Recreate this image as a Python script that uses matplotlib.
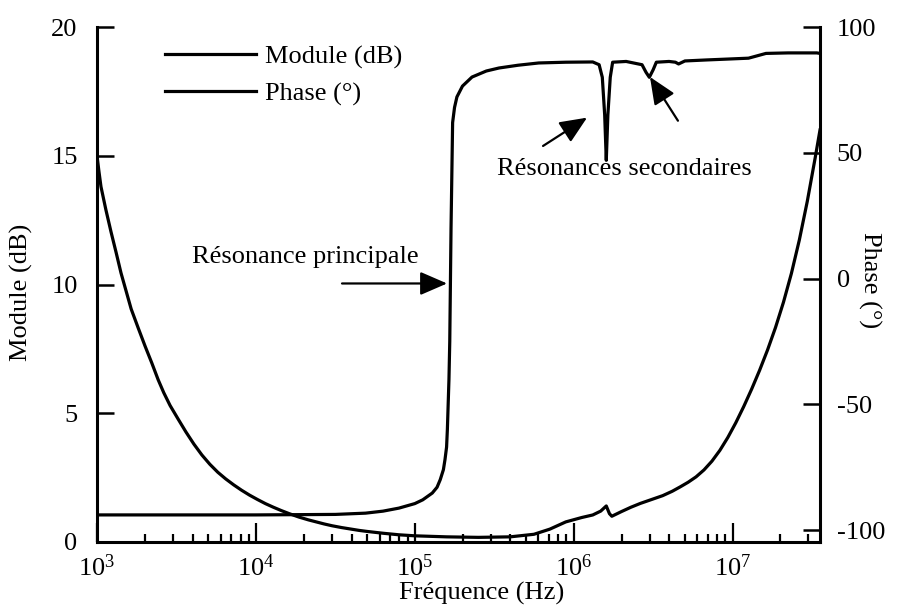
import numpy as np
import matplotlib
matplotlib.use("Agg")
import matplotlib.pyplot as plt
from matplotlib.ticker import LogLocator, FuncFormatter, NullFormatter, FixedLocator

plt.rcParams['font.family'] = ['Liberation Serif', 'DejaVu Serif']
plt.rcParams['mathtext.fontset'] = 'custom'
plt.rcParams['mathtext.rm'] = 'Liberation Serif'
plt.rcParams['mathtext.it'] = 'Liberation Serif:italic'
plt.rcParams['axes.unicode_minus'] = False

# Impedance module (dB) vs log10 of frequency
log_f_module = [3.000, 3.012, 3.025, 3.056, 3.088, 3.120, 3.151, 3.183, 3.215, 3.260,
                3.303, 3.345, 3.385, 3.420, 3.460, 3.510, 3.560, 3.610, 3.660, 3.710,
                3.760, 3.810, 3.860, 3.910, 3.960, 4.010, 4.060, 4.110, 4.160, 4.210,
                4.270, 4.330, 4.380, 4.430, 4.480, 4.540, 4.600, 4.650, 4.700, 4.800,
                4.900, 5.000, 5.200, 5.400, 5.600, 5.750, 5.850, 5.950, 6.050, 6.120,
                6.170, 6.205, 6.225, 6.240, 6.300, 6.360, 6.420, 6.490, 6.560, 6.620,
                6.670, 6.720, 6.770, 6.820, 6.870, 6.920, 6.970, 7.020, 7.070, 7.120,
                7.170, 7.220, 7.270, 7.320, 7.370, 7.420, 7.470, 7.520, 7.550]
module_db = [15.0, 14.4, 13.8, 12.9, 12.05, 11.25, 10.45, 9.75, 9.05, 8.3,
             7.6, 6.95, 6.3, 5.8, 5.3, 4.78, 4.27, 3.80, 3.38, 3.02,
             2.71, 2.45, 2.22, 2.01, 1.82, 1.65, 1.49, 1.35, 1.22, 1.10,
             0.97, 0.86, 0.78, 0.70, 0.63, 0.56, 0.50, 0.45, 0.41, 0.34,
             0.28, 0.24, 0.20, 0.18, 0.20, 0.30, 0.50, 0.78, 0.95, 1.05,
             1.2, 1.4, 1.1, 1.0, 1.18, 1.35, 1.50, 1.65, 1.80, 1.97,
             2.14, 2.32, 2.53, 2.80, 3.14, 3.56, 4.06, 4.63, 5.26, 5.94,
             6.67, 7.46, 8.33, 9.31, 10.43, 11.73, 13.23, 14.93, 16.0]

# Impedance phase (degrees) vs log10 of frequency
log_f_phase = [3.00, 4.00, 4.50, 4.69, 4.80, 4.90, 5.00, 5.05, 5.11, 5.14,
               5.16, 5.18, 5.19, 5.20, 5.205, 5.21, 5.215, 5.22, 5.228, 5.238,
               5.25, 5.265, 5.30, 5.36, 5.45, 5.53, 5.65, 5.78, 5.95, 6.12,
               6.16, 6.18, 6.195, 6.205, 6.215, 6.23, 6.245, 6.33, 6.43, 6.455,
               6.476, 6.50, 6.52, 6.60, 6.64, 6.66, 6.70, 6.836, 6.95, 7.10,
               7.21, 7.35, 7.53, 7.55]
phase_deg = [-94.0, -94.0, -93.8, -93.3, -92.5, -91.3, -89.5, -88.0, -85.3, -83.0,
             -80.0, -76.0, -72.0, -67.0, -60.0, -50.0, -40.0, -25.0, 20.0, 62.0,
             68.0, 72.2, 76.5, 80.1, 82.5, 83.7, 84.8, 85.7, 86.0, 86.1,
             85.0, 80.0, 65.0, 47.0, 65.0, 80.0, 86.0, 86.3, 85.0, 82.0,
             80.0, 83.0, 86.0, 86.3, 86.0, 85.3, 86.5, 86.9, 87.2, 87.6,
             89.5, 89.7, 89.7, 89.5]

f_module = 10.0 ** np.array(log_f_module)
f_phase = 10.0 ** np.array(log_f_phase)

FS = 19

fig = plt.figure(figsize=(9, 6.08), dpi=100)
ax = fig.add_axes([97 / 900, 66 / 608, 723 / 900, 506 / 608])
ax2 = ax.twinx()
ax2.set_position([97 / 900, 66 / 608, 723 / 900, 515 / 608])

l1, = ax.plot(f_module, module_db, color='black', lw=2.3, label='Module (dB)',
              solid_joinstyle='round')
l2, = ax2.plot(f_phase, phase_deg, color='black', lw=2.3, label='Phase (°)',
               solid_joinstyle='round')

ax.set_xscale('log')
ax.set_xlim(1e3, 10 ** 7.55)
ax.set_ylim(0, 20)
ax2.set_ylim(-104.77, 100)

ax.xaxis.set_major_locator(FixedLocator([1e3, 1e4, 1e5, 1e6, 1e7]))
ax.xaxis.set_minor_locator(LogLocator(base=10, subs=np.arange(2, 10), numticks=20))
ax.xaxis.set_minor_formatter(NullFormatter())
ax.xaxis.set_major_formatter(FuncFormatter(lambda v, p: r'$10^{%d}$' % int(round(np.log10(v)))))
ax.set_yticks([0, 5, 10, 15, 20])
ax2.set_yticks([-100, -50, 0, 50, 100])

ax.tick_params(axis='x', which='major', direction='in', length=14, width=1.6,
               labelsize=FS, pad=9)
ax.tick_params(axis='x', which='minor', direction='in', length=6, width=1.6)
ax.tick_params(axis='y', direction='in', length=12, width=1.8, labelsize=FS, pad=14)
ax2.tick_params(axis='y', direction='in', length=12, width=1.8, labelsize=FS, pad=12)

for s in ('top', 'right'):
    ax.spines[s].set_visible(False)
for s in ('top', 'left', 'bottom'):
    ax2.spines[s].set_visible(False)
ax.spines['left'].set_linewidth(2.2)
ax.spines['bottom'].set_linewidth(2.2)
ax2.spines['right'].set_linewidth(2.2)

ax.set_ylabel('Module (dB)', fontsize=FS)
ax.yaxis.set_label_coords(-0.104, 0.484)
ax.yaxis.label.set_va('center')
ax2.set_ylabel('Phase (°)', fontsize=FS, rotation=-90)
ax2.yaxis.set_label_coords(1.069, 0.509)
ax2.yaxis.label.set_va('center')
ax.set_xlabel('Fréquence (Hz)', fontsize=FS)
ax.xaxis.set_label_coords(0.532, -0.099)
ax.xaxis.label.set_va('center')

fig.legend([l1, l2], ['Module (dB)', 'Phase (°)'], loc='upper left',
           bbox_to_anchor=(165 / 900, 1 - 45 / 608), frameon=False,
           handlelength=3.45, handletextpad=0.35, labelspacing=0.5,
           borderpad=0, borderaxespad=0, fontsize=FS)

arrow = dict(arrowstyle='-|>,head_length=0.83,head_width=0.36', color='black',
             lw=1.6, mutation_scale=20, shrinkA=0, shrinkB=0)

ax.text(10 ** 3.598, 10.83, 'Résonance principale', ha='left', va='baseline', fontsize=FS)
ax.annotate('', xy=(10 ** 5.203, 10.04), xytext=(10 ** 4.542, 10.04), arrowprops=arrow)

ax.text(10 ** 5.52, 14.27, 'Résonances secondaires', ha='left', va='baseline', fontsize=FS)
ax.annotate('', xy=(10 ** 6.084, 16.48), xytext=(10 ** 5.807, 15.38), arrowprops=arrow)
ax.annotate('', xy=(10 ** 6.48, 18.06), xytext=(10 ** 6.656, 16.36), arrowprops=arrow)

fig.savefig('out.png', dpi=100)
